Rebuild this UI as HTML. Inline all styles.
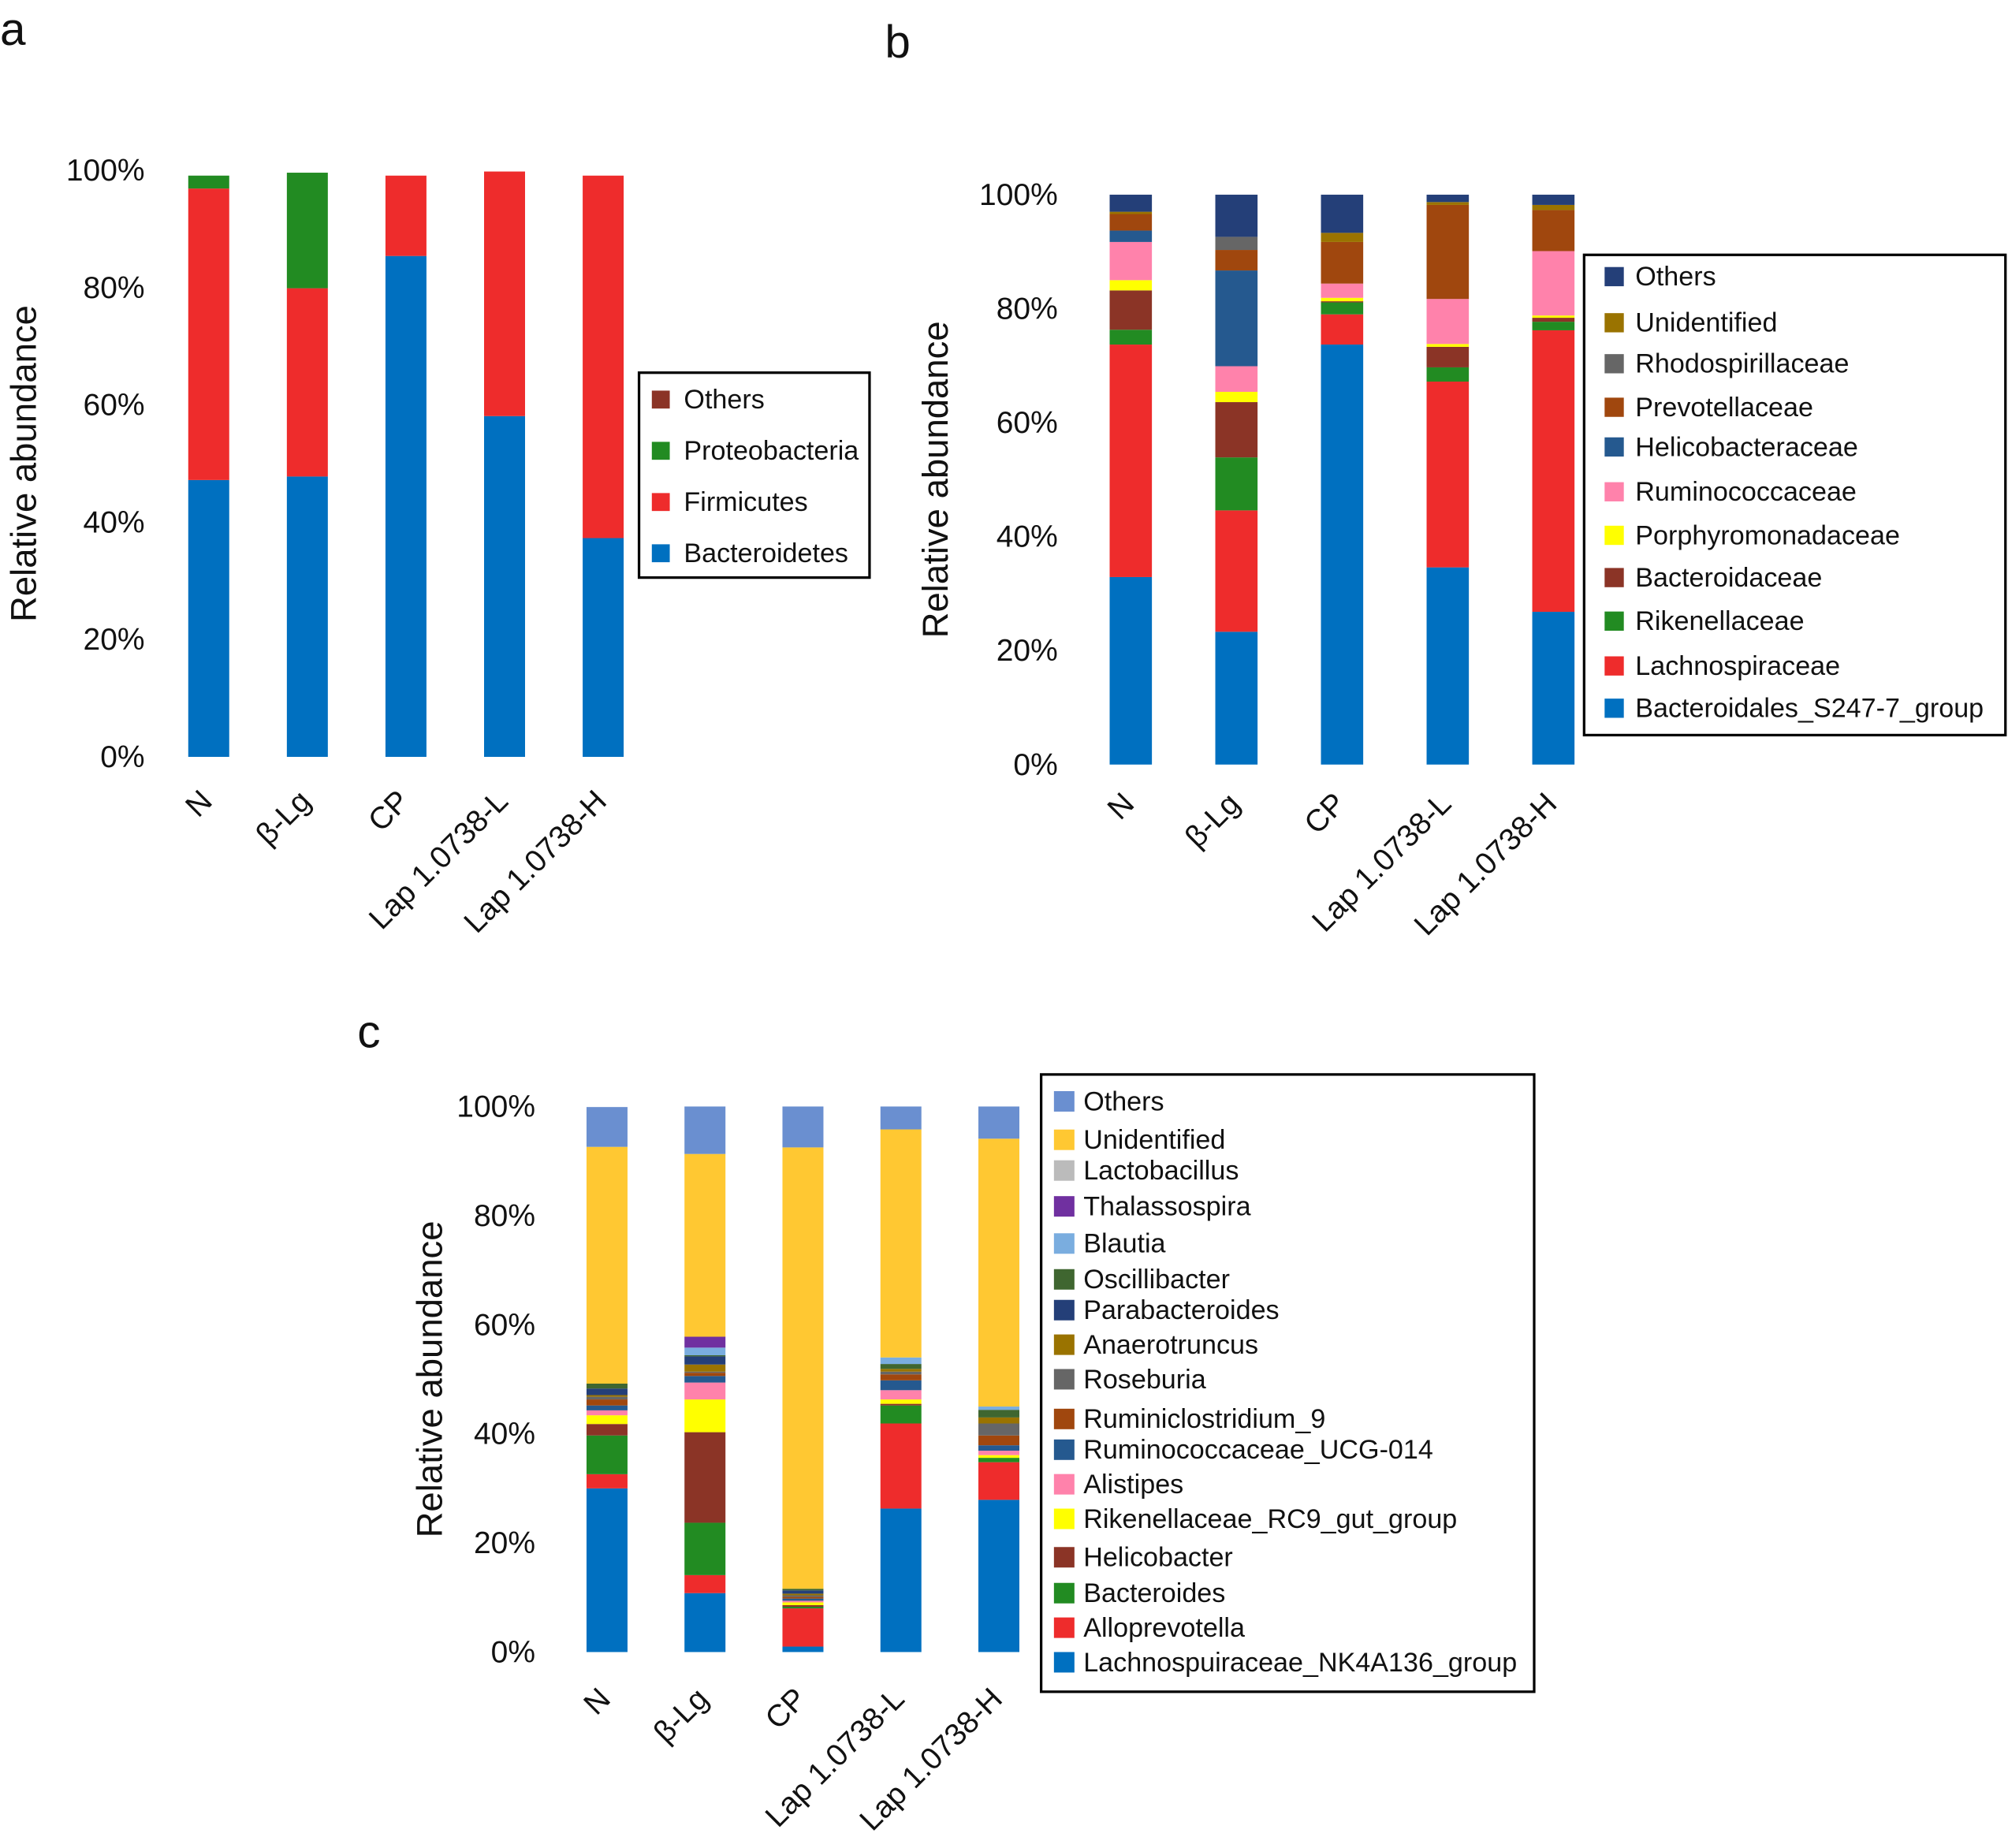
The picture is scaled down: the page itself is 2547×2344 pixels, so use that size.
<!DOCTYPE html>
<html><head><meta charset="utf-8"><style>
html,body{margin:0;padding:0;background:#fff}
svg{display:block;font-family:"Liberation Sans",sans-serif}
</style></head><body>
<svg id="fig" width="2547" height="2344" viewBox="0 0 1568 1443" xmlns="http://www.w3.org/2000/svg">
<rect width="1568" height="1443" fill="#fff"/>
</svg>
<script>
const groups = ["N","β-Lg","CP","Lap 1.0738-L","Lap 1.0738-H"];
const ticks = ["0%","20%","40%","60%","80%","100%"];
const tickVals = [0,20,40,60,80,100];

// Panel a (bottom-up)
const aSeries = ["Bacteroidetes","Firmicutes","Proteobacteria","Others"];
const aBacteroidetes = [47.2,47.8,85.4,58.1,37.3];
const aFirmicutes = [49.7,32.1,13.7,41.7,61.8];
const aProteobacteria = [2.2,19.7,0,0,0];
const aOthers = [0,0,0,0,0];

// Panel b (bottom-up)
const bSeries = ["Bacteroidales_S247-7_group","Lachnospiraceae","Rikenellaceae","Bacteroidaceae","Porphyromonadaceae","Ruminococcaceae","Helicobacteraceae","Prevotellaceae","Rhodospirillaceae","Unidentified","Others"];
const bN   = [32.9,40.8,2.6,6.9,1.8,6.7,2.0,2.9,0,0.4,3.0];
const bBLg = [23.3,21.3,9.3,9.7,1.8,4.5,16.8,3.6,2.3,0,7.4];
const bCP  = [73.7,5.3,2.1,0.2,0.6,2.5,0,7.3,0,1.6,6.7];
const bL   = [34.6,32.6,2.5,3.6,0.5,7.9,0,16.5,0,0.5,1.3];
const bH   = [26.8,49.4,1.5,0.7,0.4,11.3,0,7.2,0,0.9,1.8];

// Panel c (bottom-up)
const cSeries = ["Lachnospuiraceae_NK4A136_group","Alloprevotella","Bacteroides","Helicobacter","Rikenellaceae_RC9_gut_group","Alistipes","Ruminococcaceae_UCG-014","Ruminiclostridium_9","Roseburia","Anaerotruncus","Parabacteroides","Oscillibacter","Blautia","Thalassospira","Lactobacillus","Unidentified","Others"];
const cN   = [30.0,2.6,7.1,2.1,1.6,0.9,0.9,1.1,0.5,0.3,1.2,0.9,0,0,0,43.4,7.3];
const cBLg = [10.8,3.3,9.6,16.6,6.0,3.1,1.2,0.6,0.2,1.3,1.5,0.2,1.4,2.0,0,33.5,8.7];
const cCP  = [1.0,7.0,0.3,0.3,0.5,0.3,0.4,0.3,0.3,0.3,0.6,0.3,0,0,0,80.9,7.5];
const cL   = [26.3,15.6,3.3,0.3,0.8,1.7,1.8,1.1,0.5,0.5,0,0.9,1.2,0,0,41.8,4.2];
const cH   = [27.9,6.9,0.8,0,0.5,0.8,1.0,1.8,2.2,1.1,0,1.4,0.6,0,0,49.1,5.9];

const NS="http://www.w3.org/2000/svg";
const svg=document.getElementById('fig');
function el(tag,attrs,parent){const e=document.createElementNS(NS,tag);for(const k in attrs)e.setAttribute(k,attrs[k]);(parent||svg).appendChild(e);return e;}
function slug(s){return s.toLowerCase().replace(/[^a-z0-9]+/g,'-').replace(/^-|-$/g,'');}

function panel(cfg){
  const g=el('g',{});
  
  
  const y=v=>cfg.y0-(cfg.y0-cfg.y100)*v/100;
  tickVals.forEach((tv,i)=>{
    const t=el('text',{x:cfg.tickX,y:y(tv)+8,'text-anchor':'end','font-size':24,fill:'#111'},g);
    t.textContent=ticks[i];
    
    
  });
  const yt=el('text',{x:0,y:0,transform:`translate(${cfg.titleX},${(cfg.y0+cfg.y100)/2}) rotate(-90)`,'text-anchor':'middle','font-size':28,fill:'#111'},g);
  yt.textContent='Relative abundance';
  
  
  groups.forEach((grp,gi)=>{
    const cx=cfg.x0+gi*cfg.dx;
    let acc=0;
    cfg.data[gi].forEach((v,si)=>{
      if(v<=0)return;
      const r=el('rect',{x:cx-cfg.bw/2,y:y(acc+v),width:cfg.bw,height:y(acc)-y(acc+v),fill:cfg.colors[si]},g);
      
      
      acc+=v;
    });
    const lx=cx+cfg.labelDx, ly=cfg.y0+cfg.labelDy;
    const t=el('text',{x:0,y:0,transform:`translate(${lx},${ly}) rotate(-45)`,'text-anchor':'end','font-size':24,fill:'#111'},g);
    t.textContent=grp;
    
    
  });
  const L=cfg.legend;
  const box=el('rect',{x:L.x,y:L.y,width:L.w,height:L.h,fill:'#fff',stroke:'#000','stroke-width':2},g);
  
  
  const n=cfg.series.length;
  for(let k=0;k<n;k++){
    const si=n-1-k;
    const ey=L.ys[k];
    const sq=el('rect',{x:L.sx,y:ey-L.sq/2,width:L.sq,height:L.sq,fill:cfg.colors[si]},g);
    
    
    const t=el('text',{x:L.tx,y:ey+7,'font-size':21,fill:'#111'},g);
    t.textContent=cfg.series[si];
    
    
  }
}

const aData=groups.map((_,i)=>[aBacteroidetes[i],aFirmicutes[i],aProteobacteria[i],aOthers[i]]);
panel({id:'panel-a',series:aSeries,data:aData,colors:['#0070C0','#EE2C2C','#228B22','#8B3426'],
  x0:163,dx:77,bw:32,y0:591,y100:133,tickX:113,titleX:28,labelDy:36,labelDx:4,
  legend:{x:499,y:291,w:180,h:160,sx:509,sq:14,tx:534,ys:[312,352,392,432]}});

panel({id:'panel-b',series:bSeries,data:[bN,bBLg,bCP,bL,bH],
  colors:['#0070C0','#EE2C2C','#228B22','#8B3426','#FFFF00','#FF82AB','#25598F','#A0470E','#666666','#9A7300','#243F78'],
  x0:883,dx:82.5,bw:33,y0:597,y100:152,tickX:826,titleX:740,labelDy:32,labelDx:4,
  legend:{x:1237,y:199,w:329,h:375,sx:1253,sq:15,tx:1277,ys:[216,252,284,318,349,384,418,451,485,520,553]}});

panel({id:'panel-c',series:cSeries,data:[cN,cBLg,cCP,cL,cH],
  colors:['#0070C0','#EE2C2C','#228B22','#8B3426','#FFFF00','#FF82AB','#25598F','#A0470E','#666666','#9A7300','#243F78','#3F6630','#7AADDF','#7030A0','#BBBBBB','#FFC832','#6A8FD0'],
  x0:474,dx:76.5,bw:32,y0:1290,y100:864,tickX:418,titleX:345,labelDy:38,labelDx:4,
  legend:{x:813,y:839,w:385,h:482,sx:823,sq:16,tx:846,ys:[860,890,914,942,971,999,1023,1050,1077,1108,1132,1159,1186,1216,1244,1271,1298]}});

[['a',0,35],['b',691,45],['c',279,818]].forEach(([s,x,yy])=>{
  const t=el('text',{x:x,y:yy,'font-size':36,fill:'#111'});
  t.textContent=s;
  
  
});
</script>
</body></html>
